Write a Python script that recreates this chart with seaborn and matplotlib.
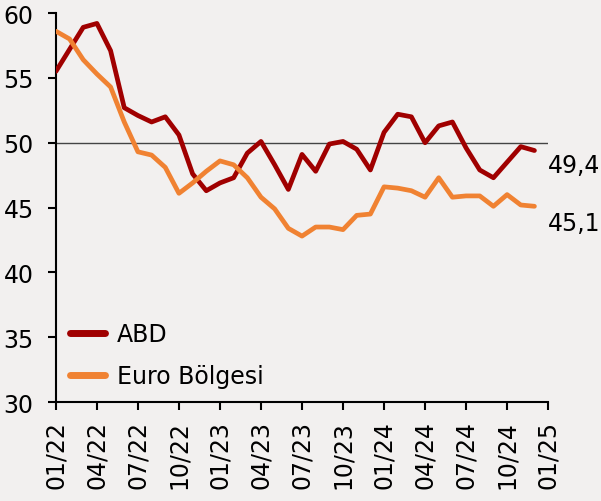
import numpy as np
import pandas as pd
import seaborn as sns
import matplotlib.pyplot as plt

# monthly PMI, 01/22 .. 12/24
months = list(range(36))
abd = [55.5, 57.2, 58.9, 59.2, 57.1, 52.7, 52.1, 51.6, 52.0, 50.6, 47.6, 46.3,
       46.9, 47.3, 49.2, 50.1, 48.3, 46.4, 49.1, 47.8, 49.9, 50.1, 49.5, 47.9,
       50.8, 52.2, 52.0, 50.0, 51.3, 51.6, 49.6, 47.9, 47.3, 48.5, 49.7, 49.4]
euro = [58.6, 58.0, 56.4, 55.3, 54.3, 51.6, 49.3, 49.05, 48.1, 46.1, 46.9, 47.8,
        48.6, 48.3, 47.3, 45.8, 44.9, 43.4, 42.8, 43.5, 43.5, 43.3, 44.4, 44.5,
        46.6, 46.5, 46.3, 45.8, 47.3, 45.8, 45.9, 45.9, 45.1, 46.0, 45.2, 45.1]
tick_pos = list(range(0, 37, 3))
tick_labels = ["01/22", "04/22", "07/22", "10/22", "01/23", "04/23", "07/23",
               "10/23", "01/24", "04/24", "07/24", "10/24", "01/25"]
series_names = ["ABD", "Euro Bölgesi"]
colors = ["#A00000", "#F08232"]

df = pd.DataFrame({"month": months * 2,
                   "value": abd + euro,
                   "seri": [series_names[0]] * 36 + [series_names[1]] * 36})

bg = "#F2F0EF"
sns.set_theme(style="ticks")
plt.rcParams["font.family"] = ["DejaVu Sans"]
plt.rcParams["text.color"] = "black"

fig = plt.figure(figsize=(6.01, 5.02), dpi=100, facecolor=bg)
ax = fig.add_axes([0.093, 0.197, 0.819, 0.775])
ax.set_facecolor(bg)

ax.axhline(50, color="#444444", lw=1, zorder=1)
sns.lineplot(data=df, x="month", y="value", hue="seri", palette=colors,
             lw=3.4, ax=ax, zorder=3)
for l in ax.lines:
    l.set_solid_capstyle("round")

ax.set_xlim(0, 36)
ax.set_ylim(30, 60)
ax.set_yticks(range(30, 61, 5))
ax.set_xticks(tick_pos)
ax.set_xticklabels(tick_labels, rotation=90)
ax.tick_params(axis="both", labelsize=17, length=6, width=1.5, colors="black",
               direction="out")
ax.tick_params(axis="y", pad=10)
ax.tick_params(axis="x", pad=7)
ax.set_xlabel("")
ax.set_ylabel("")
for s in ["top", "right"]:
    ax.spines[s].set_visible(False)
for s in ["left", "bottom"]:
    ax.spines[s].set_linewidth(1.5)
    ax.spines[s].set_color("black")

ax.text(36.0, abd[-1] - 1.1, f"{abd[-1]:.1f}".replace(".", ","), fontsize=17,
        va="center", ha="left", clip_on=False)
ax.text(36.0, euro[-1] - 1.3, f"{euro[-1]:.1f}".replace(".", ","), fontsize=17,
        va="center", ha="left", clip_on=False)

leg = ax.legend(loc="lower left", frameon=False, fontsize=17, handlelength=1.5,
                handletextpad=0.5, bbox_to_anchor=(0.0, 0.0),
                borderaxespad=0.2, labelspacing=0.75)
for h in leg.get_lines():
    h.set_linewidth(5)

fig.savefig("out.png", dpi=100, facecolor=bg)
